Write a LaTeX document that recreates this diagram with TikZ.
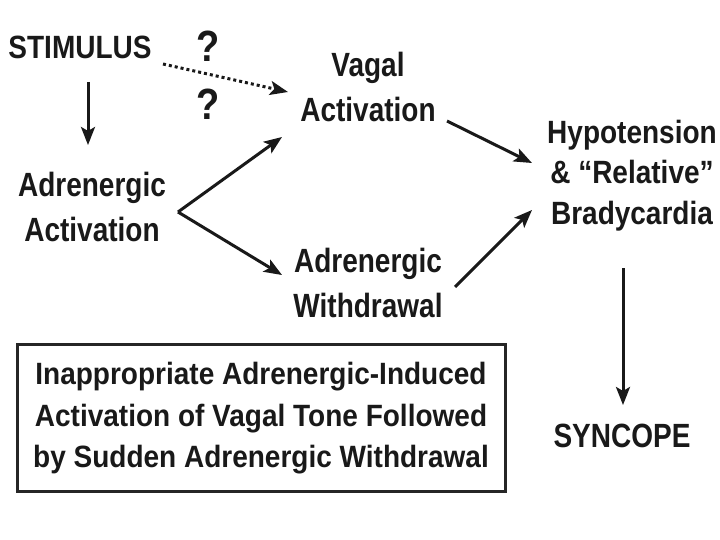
\documentclass[tikz,border=0pt]{standalone}
\usepackage{fontspec}
\setmainfont{Liberation Sans}
\usetikzlibrary{arrows.meta,calc}
\newcommand{\talltext}[4]{\scalebox{1}[#2]{\fontsize{#1}{#3}\selectfont\bfseries\begin{tabular}{@{}c@{}}#4\end{tabular}}}
\begin{document}
\begin{tikzpicture}[x=1pt,y=-1pt,
  lbl/.style={inner sep=0pt,text=black!90},
  arr/.style={line width=3pt,-{Stealth[length=18pt,width=14pt,inset=4pt]},black!90},
  dotarr/.style={line width=3pt,dash pattern=on 3pt off 3pt,-{Stealth[length=18pt,width=14pt,inset=4pt]},black!90}]
\path[use as bounding box,fill=white] (0,0) rectangle (720,540);
\node[lbl] (stim) at (80,49.4) {\talltext{28}{1.15}{37.5}{STIMULUS}};
\node[lbl] (q1) at (208,52.8) {\talltext{38}{1.15}{40}{?}};
\node[lbl] (q2) at (208,110.8) {\talltext{38}{1.15}{40}{?}};
\node[lbl] (adract) at (92,210.5) {\talltext{28}{1.2}{37.5}{Adrenergic\\Activation}};
\node[lbl] (vagal) at (368,90.5) {\talltext{28}{1.2}{37.5}{Vagal\\Activation}};
\node[lbl] (withd) at (368,285.5) {\talltext{28}{1.2}{37.5}{Adrenergic\\Withdrawal}};
\node[lbl] (hypo) at (632,175.8) {\talltext{28}{1.15}{35.65}{Hypotension\\\& “Relative”\\Bradycardia}};
\node[lbl] (sync) at (622,438) {\talltext{28}{1.2}{37.5}{SYNCOPE}};
\node[lbl,draw=black!85,line width=3pt,minimum width=488pt,minimum height=147pt] (box) at (261,418)
  {\talltext{28}{1.1}{37.7}{Inappropriate Adrenergic-Induced\\Activation of Vagal Tone Followed\\by Sudden Adrenergic Withdrawal}};
\coordinate (fork) at ($(adract)+(86,1.5)$);
\draw[arr] ($(stim)+(8,32.6)$) -- ($(adract)+(-4,-65.5)$);
\draw[dotarr] ($(stim)+(83,14.6)$) -- ($(vagal)+(-80,1.5)$);
\draw[arr] (fork) -- ($(vagal)+(-86,46.5)$);
\draw[arr] (fork) -- ($(withd)+(-86,-10.5)$);
\draw[arr] ($(vagal)+(79,30.5)$) -- ($(hypo)+(-100,-12.8)$);
\draw[arr] ($(withd)+(87,1.5)$) -- ($(hypo)+(-100,34.2)$);
\draw[arr] ($(hypo)+(-9,92.2)$) -- ($(sync)+(1,-33)$);
\end{tikzpicture}
\end{document}
